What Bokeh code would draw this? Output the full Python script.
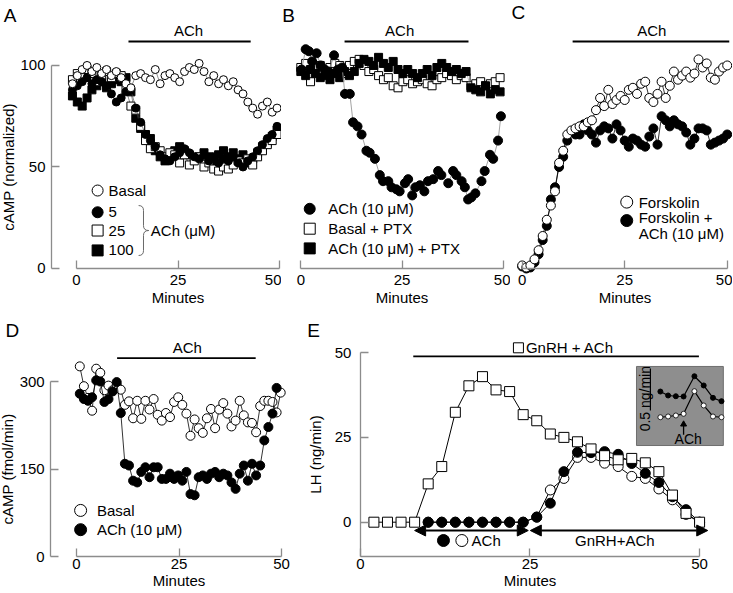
import math
from bokeh.plotting import figure
from bokeh.layouts import column, row
from bokeh.models import Range1d, FixedTicker, Arrow, NormalHead
from bokeh.core.properties import value
from bokeh.embed import file_html
from bokeh.resources import INLINE

FONT = "Liberation Sans"
AXIS_GRAY = "#8c8c8c"

# ---------------- data ----------------
MINUTE_TICKS = [0, 25, 50]
A_YTICKS = [0, 50, 100]
D_YTICKS = [0, 150, 300]
E_YTICKS = [0, 25, 50]

# Panel A: cAMP (normalized)
tA = [-1.0, 0.2, 1.4, 2.6, 3.8, 5.0, 6.2, 7.4, 8.6, 9.8, 11.0, 12.2, 13.4, 14.6, 15.8,
      17.0, 18.2, 19.4, 20.6, 21.8, 23.0, 24.2, 25.4, 26.6, 27.8, 29.0, 30.2, 31.4,
      32.6, 33.8, 35.0, 36.2, 37.4, 38.6, 39.8, 41.0, 42.2, 43.4, 44.6, 45.8, 47.0,
      48.2, 49.4]
A_basal = [91, 95, 98, 100, 97, 99, 96, 98, 95, 97, 94, 91, 89, 95, 96, 94, 93, 98, 91,
           95, 96, 94, 92, 97, 99, 98, 101, 97, 92, 95, 91, 93, 90, 92, 88, 86, 82, 79,
           76, 80, 82, 77, 79]
A_ach5 = [88, 90, 92, 94, 91, 93, 92, 90, 86, 82, 84, 87, 88, 79, 72, 66, 63, 60, 56, 54,
          53, 55, 57, 59, 57, 55, 54, 56, 53, 55, 52, 54, 53, 55, 52, 50, 53, 55, 58, 61,
          64, 66, 70]
A_ach25 = [93, 96, 94, 98, 96, 92, 95, 97, 94, 96, 95, 88, 80, 78, 70, 63, 59, 60, 58, 55,
           57, 56, 52, 56, 51, 53, 55, 50, 52, 49, 48, 50, 49, 51, 53, 52, 54, 51, 55, 58,
           61, 63, 66]
A_ach100 = [85, 82, 80, 84, 88, 90, 92, 89, 91, 93, 92, 94, 87, 74, 69, 66, 64, 58, 55, 53,
            55, 58, 60, 58, 56, 54, 55, 57, 55, 53, 56, 58, 55, 57, 54, 56, 52, 54, 57, 60,
            62, 65, 68]

# Panel B
B_ach_t = [0.2, 1.2, 2.0, 2.8, 3.9, 4.9, 5.9, 6.9, 8.2, 9.2, 10.2, 10.9, 12.1, 12.9, 14.0,
           15.0, 16.2, 17.0, 18.3, 19.5, 20.3, 21.6, 22.4, 23.6, 24.4, 25.7, 26.5, 27.5,
           28.3, 29.4, 30.5, 31.4, 32.7, 33.9, 34.7, 36.4, 37.6, 38.4, 39.7, 40.5, 41.3,
           42.1, 43.1, 44.6, 45.4, 46.7, 47.5, 48.7, 49.4]
B_ach = [98, 108, 107, 102, 106, 100, 98, 97, 105, 98, 99, 86, 86, 72, 70, 66, 58, 57, 54,
         46, 43, 43, 40, 39, 38, 42, 44, 36, 40, 41, 38, 43, 44, 48, 46, 42, 48, 46, 43, 40,
         34, 35, 37, 43, 48, 56, 54, 63, 75]
tB = [0.0, 1.2, 2.4, 3.6, 4.8, 6.0, 7.2, 8.4, 9.6, 10.8, 12.0, 13.2, 14.4, 15.6, 16.8,
      18.0, 19.2, 20.4, 21.6, 22.8, 24.0, 25.2, 26.4, 27.6, 28.8, 30.0, 31.2, 32.4, 33.6,
      34.8, 36.0, 37.2, 38.4, 39.6, 40.8, 42.0, 43.2, 44.4, 45.6, 46.8, 48.0, 49.2]
B_basal_ptx = [99, 101, 92, 99, 100, 97, 99, 101, 100, 96, 100, 102, 103, 100, 97, 98, 95,
               93, 94, 90, 89, 92, 93, 91, 92, 93, 91, 90, 93, 94, 96, 95, 93, 95, 94, 90,
               91, 92, 90, 91, 92, 94]
B_ach_ptx = [97, 95, 98, 96, 94, 95, 93, 96, 94, 97, 95, 97, 101, 103, 102, 100, 104, 101,
             99, 102, 98, 96, 98, 96, 94, 96, 98, 95, 99, 101, 99, 97, 98, 96, 97, 89, 88,
             87, 90, 86, 88, 87]

# Panel C
tC = [0, 1, 2, 3, 4, 5, 6, 7, 8, 9, 10, 11, 12, 13, 14, 15, 16, 17, 18, 19, 20, 21, 22,
      23, 24, 25, 26, 27, 28, 29, 30, 31, 32, 33, 34, 35, 36, 37, 38, 39, 40, 41, 42, 43,
      44, 45, 46, 47, 48, 49, 50]
C_forsk = [1.5, 0.5, 1.5, 4.5, 9, 16, 24, 31, 38, 52, 58, 66, 68, 69, 70, 70, 72, 73, 78,
           84, 80, 88, 81, 83, 85, 83, 88, 89, 86, 91, 92, 84, 82, 86, 92, 84, 90, 97, 93,
           95, 97, 94, 96, 103, 99, 101, 94, 93, 97, 99, 100]
C_forsk_ach = [1, 0, 0.5, 3, 7, 14, 21, 34, 40, 50, 55, 63, 67, 66, 66, 71, 68, 66, 62, 68,
               70, 69, 64, 71, 68, 63, 60, 64, 63, 61, 60, 65, 69, 61, 75, 73, 70, 73, 71,
               70, 67, 61, 64, 69, 69, 68, 61, 62, 63, 64, 66]

# Panel D: cAMP (fmol/min)
tD = [0.8, 1.8, 2.8, 3.8, 4.8, 5.8, 6.8, 7.8, 8.8, 9.8, 10.8, 11.8, 12.8, 13.8, 14.8,
      15.8, 16.8, 17.8, 18.8, 19.8, 20.8, 21.8, 22.8, 23.8, 24.8, 25.8, 26.8, 27.8, 28.8,
      29.8, 30.8, 31.8, 32.8, 33.8, 34.8, 35.8, 36.8, 37.8, 38.8, 39.8, 40.8, 41.8, 42.8,
      43.8, 44.8, 45.8, 46.8, 47.8, 48.8, 49.8]
D_basal = [326, 292, 272, 250, 322, 315, 285, 293, 285, 294, 286, 260, 266, 237, 267, 236,
           267, 252, 270, 243, 233, 246, 239, 265, 273, 260, 245, 207, 235, 220, 212, 237,
           253, 220, 252, 263, 245, 223, 233, 267, 242, 230, 229, 213, 258, 267, 267, 265,
           247, 281]
tD_ach = tD[:49]
D_ach = [279, 270, 267, 273, 302, 300, 265, 270, 283, 299, 246, 159, 156, 130, 127, 145,
         153, 136, 153, 153, 133, 133, 142, 133, 139, 130, 145, 107, 105, 136, 139, 133,
         142, 145, 136, 142, 139, 127, 116, 142, 156, 130, 159, 139, 156, 199, 222, 245, 289]

# Panel E: LH (ng/min)
tE_sq = [2, 4, 6, 8, 10, 12, 14, 16, 18, 20, 22, 24, 26, 28, 30, 32, 34, 36, 38, 40, 42,
         44, 46, 48, 50]
E_gnrh_ach = [0, 0, 0, 0, 11.3, 16.4, 32.4, 40.2, 42.9, 39.0, 38.5, 31.7, 29.9, 26.0, 25.0,
              23.7, 21.6, 19.6, 18.4, 18.8, 17.5, 14.9, 8.0, 2.6, 0]
tE_c = [10, 12, 14, 16, 18, 20, 22, 24, 26, 28, 30, 32, 34, 36, 38, 40, 42, 44, 46, 48, 50]
E_open = [0, 0, 0, 0, 0, 0, 0, 0, 1.5, 9.5, 12.9, 19.1, 19.1, 17.4, 16.4, 13.5, 12.9, 9.8,
          6.6, 2.3, 0]
E_filled = [0, 0, 0, 0, 0, 0, 0, 0, 1.5, 5.6, 14.9, 20.6, 20.5, 20.8, 20.0, 17.3, 14.4,
            11.7, 7.5, 3.7, 0]

# Inset of E (sample index, ng/min relative)
inset_x = [0, 1, 2, 3, 4.4, 5.6, 6.8, 7.9]
inset_filled = [0.345, 0.298, 0.289, 0.286, 0.527, 0.417, 0.270, 0.230]
inset_open = [0.039, 0.048, 0.060, 0.080, 0.349, 0.179, 0.048, 0.039]

# ---------------- helpers ----------------

def make_fig(w, h, xr, yr, yaxis=True):
    p = figure(width=w, height=h, x_range=Range1d(*xr), y_range=Range1d(*yr),
               output_backend="svg", toolbar_location=None,
               y_axis_location="left" if yaxis else None,
               min_border_left=0, min_border_right=0,
               min_border_top=0, min_border_bottom=0)
    p.outline_line_color = None
    p.grid.visible = False
    p.background_fill_color = "white"
    p.border_fill_color = "white"
    return p


def style_axis(ax, ticks, bounds, label, standoff, label_standoff, at, size="15px"):
    ax.fixed_location = at
    ax.ticker = FixedTicker(ticks=ticks)
    ax.bounds = bounds
    ax.axis_label = label
    ax.axis_line_color = AXIS_GRAY
    ax.axis_line_width = 1.3
    ax.major_tick_line_color = AXIS_GRAY
    ax.major_tick_line_width = 1.3
    ax.major_tick_in = 8
    ax.major_tick_out = 0
    ax.minor_tick_line_color = None
    ax.major_label_text_font = FONT
    ax.major_label_text_font_size = size
    ax.major_label_text_color = "black"
    ax.major_label_standoff = standoff
    ax.axis_label_text_font = FONT
    ax.axis_label_text_font_size = size
    ax.axis_label_text_font_style = "normal"
    ax.axis_label_text_color = "black"
    ax.axis_label_standoff = label_standoff


def txt(p, x, y, s, size="15px", align="left", baseline="middle", angle=0.0, **kw):
    p.text(x=[x], y=[y], text=[s], text_font=value(FONT), text_font_size=value(size),
           text_align=align, text_baseline=baseline, angle=angle, text_color="black", **kw)


def series(p, x, y, marker, filled, size, line_color=None, line_width=0.8, **kw):
    if line_color is not None:
        p.line(x, y, line_color=line_color, line_width=line_width, **kw)
    p.scatter(x, y, marker=marker, size=size, fill_color="black" if filled else "white",
              line_color="black", line_width=1.0, **kw)


def key(p, x, y, marker, filled, size=11):
    p.scatter([x], [y], marker=marker, size=size, fill_color="black" if filled else "white",
              line_color="black", line_width=1.0)


def letter(p, s, x, y):
    txt(p, x, y, s, size="19px")


def ach_bar(p, x0, x1, y, ty, tx):
    p.segment([x0], [y], [x1], [y], line_color="black", line_width=1.8)
    txt(p, tx, ty, "ACh", align="center")

TOP_H = 309
BOT_H = 283
TOP_Y = (-20.2, 132.0)

# ---------------- panel A ----------------
pA = make_fig(281, TOP_H, (-18.72, 50.49), TOP_Y)
style_axis(pA.xaxis[0], MINUTE_TICKS, (0, 50), "Minutes", 7, 0, 0)
style_axis(pA.yaxis[0], A_YTICKS, (0, 100), "cAMP (normalized)", 6, 0, -6.15)
series(pA, tA, A_ach100, "square", True, 8, "#444444", 0.6)
series(pA, tA, A_ach25, "square", False, 8, "#444444", 0.6)
series(pA, tA, A_ach5, "circle", True, 8, "#444444", 0.6)
series(pA, tA, A_basal, "circle", False, 8, "#444444", 0.6)
ach_bar(pA, 12.8, 42.9, 111.8, 117.4, 27.6)
for yy, mk, fl, lab in [(38.4, "circle", False, "Basal"), (27.7, "circle", True, "5"),
                        (18.7, "square", False, "25"), (8.9, "square", True, "100")]:
    key(pA, 5.2, yy, mk, fl)
    txt(pA, 7.9, yy, lab)
# brace
bx, tipx, px_, ytop, ymid, ybot, r = 16.5, 15.3, 17.8, 31.0, 18.7, 6.4, 2.4
BR = "#6a6a6a"
pA.quadratic(x0=[tipx, bx, px_, bx], y0=[ytop, ymid + r, ymid, ybot + r],
             x1=[bx, px_, bx, tipx], y1=[ytop - r, ymid, ymid - r, ybot],
             cx=[bx, bx, bx, bx], cy=[ytop, ymid, ymid, ybot],
             line_color=BR, line_width=1.0)
pA.segment([bx, bx], [ytop - r, ymid - r], [bx, bx], [ymid + r, ybot + r],
           line_color=BR, line_width=1.0)
txt(pA, 18.3, ymid, "ACh (\u03bcM)")
letter(pA, "A", -17.9, 124.6)

# ---------------- panel B ----------------
pB = make_fig(229, TOP_H, (-4.77, 51.77), TOP_Y, yaxis=False)
style_axis(pB.xaxis[0], MINUTE_TICKS, (0, 50), "Minutes", 7, 0, 0)
series(pB, tB, B_basal_ptx, "square", False, 8, "#999999", 0.6)
series(pB, tB, B_ach_ptx, "square", True, 8, "#999999", 0.6)
series(pB, B_ach_t, B_ach, "circle", True, 9, "#999999", 0.9)
ach_bar(pB, 10.8, 41.4, 111.8, 117.4, 24.4)
for yy, mk, fl, lab in [(29.4, "circle", True, "ACh (10 \u03bcM)"),
                        (19.6, "square", False, "Basal + PTX"),
                        (9.9, "square", True, "ACh (10 \u03bcM)  + PTX")]:
    key(pB, 2.2, yy, mk, fl)
    txt(pB, 6.8, yy, lab)
letter(pB, "B", -4.6, 124.6)

# ---------------- panel C ----------------
pC = make_fig(222, TOP_H, (-2.85, 51.29), TOP_Y, yaxis=False)
style_axis(pC.xaxis[0], MINUTE_TICKS, (0, 50), "Minutes", 7, 0, 0)
series(pC, tC, C_forsk_ach, "circle", True, 9, "black", 0.8)
series(pC, tC, C_forsk, "circle", False, 9, "black", 0.8)
ach_bar(pC, 12.3, 50.5, 111.8, 117.4, 31.6)
key(pC, 25.5, 32.7, "circle", False, 12)
txt(pC, 28.4, 32.7, "Forskolin")
key(pC, 25.5, 23.6, "circle", True, 12)
txt(pC, 28.4, 25.1, "Forskolin +")
txt(pC, 28.4, 17.3, "ACh (10 \u03bcM)")
letter(pC, "C", -2.6, 126.1)

# ---------------- panel D ----------------
pD = make_fig(300, BOT_H, (-18.54, 54.63), (-61.7, 423.5))
style_axis(pD.xaxis[0], MINUTE_TICKS, (0, 50), "Minutes", 2, 0, 0)
style_axis(pD.yaxis[0], D_YTICKS, (0, 300), "cAMP (fmol/min)", 6, 0, -6.3)
series(pD, tD, D_basal, "circle", False, 9, "black", 0.8)
series(pD, tD_ach, D_ach, "circle", True, 9, "black", 0.8)
ach_bar(pD, 9.9, 43.7, 340, 359, 27.0)
key(pD, 1.0, 79, "circle", False, 12)
txt(pD, 5.0, 79, "Basal")
key(pD, 1.0, 46, "circle", True, 12)
txt(pD, 5.0, 46, "ACh (10 \u03bcM)")
letter(pD, "D", -17.3, 387.4)

# ---------------- panel E ----------------
E_XR = (-8.82, 54.85)
E_YR = (-20.72, 62.69)
E_FLOOR = -10.11
pE = make_fig(432, BOT_H, E_XR, E_YR)
style_axis(pE.xaxis[0], MINUTE_TICKS, (0, 50), "Minutes", 2, 0, E_FLOOR)
style_axis(pE.yaxis[0], E_YTICKS, (E_FLOOR, 50), "LH (ng/min)", 9, 8, 0)
series(pE, tE_c, E_open, "circle", False, 10, "black", 1.0)
series(pE, tE_c, E_filled, "circle", True, 10, "black", 1.0)
series(pE, tE_sq, E_gnrh_ach, "square", False, 10, "black", 1.0)
# top bar
pE.segment([7.8], [48.9], [49.9], [48.9], line_color="black", line_width=1.8)
key(pE, 23.3, 51.4, "square", False, 10)
txt(pE, 24.4, 51.4, "GnRH + ACh")
# double arrows
for xs, xe in [(8.0, 24.75), (25.05, 51.2)]:
    pE.add_layout(Arrow(x_start=xs, y_start=-2.45, x_end=xe, y_end=-2.45,
                        line_color="black", line_width=2,
                        start=NormalHead(size=11, fill_color="black", line_color="black"),
                        end=NormalHead(size=11, fill_color="black", line_color="black")))
key(pE, 12.25, -5.4, "circle", True, 12)
key(pE, 14.96, -5.4, "circle", False, 12)
txt(pE, 16.4, -5.4, "ACh")
txt(pE, 37.5, -5.4, "GnRH+ACh", align="center")
# inset box
pE.quad(left=[40.7], right=[53.5], bottom=[22.6], top=[45.9],
        fill_color="#8e8e8e", line_color="#6e6e6e", line_width=1)
INSET_X0, INSET_DX = 44.22, 1.14    # panel-E minutes of inset sample 0, per sample
INSET_Y0, INSET_DY = 29.97, 24.76   # panel-E LH units of inset 0 ng/min, per ng/min
pE.extra_x_ranges = {"inx": Range1d((E_XR[0] - INSET_X0) / INSET_DX,
                                    (E_XR[1] - INSET_X0) / INSET_DX)}
pE.extra_y_ranges = {"iny": Range1d((E_YR[0] - INSET_Y0) / INSET_DY,
                                    (E_YR[1] - INSET_Y0) / INSET_DY)}
IN = dict(x_range_name="inx", y_range_name="iny")
pE.line(inset_x, inset_filled, line_color="black", line_width=1.2, **IN)
pE.scatter(inset_x, inset_filled, marker="circle", size=5, fill_color="black",
           line_color="black", **IN)
pE.line(inset_x, inset_open, line_color="black", line_width=1.2, **IN)
pE.scatter(inset_x, inset_open, marker="circle", size=5, fill_color="white",
           line_color="black", line_width=0.8, **IN)
pE.segment([-1.29], [0.12], [-1.29], [0.62], line_color="black", line_width=1.2, **IN)
txt(pE, -2.05, 0.26, "0.5 ng/min", size="14px", align="center", angle=math.pi / 2, **IN)
pE.segment([3], [-0.17], [3], [-0.06], line_color="black", line_width=1.3, **IN)
pE.scatter([3], [-0.045], marker="triangle", size=6, fill_color="black",
           line_color="black", **IN)
txt(pE, 3.6, -0.215, "ACh", size="14px", align="center", **IN)
letter(pE, "E", -7.84, 56.5)

layout = column(row(pA, pB, pC), row(pD, pE))
open("out.html", "w").write(file_html(layout, INLINE, title="cAMP and LH responses"))
